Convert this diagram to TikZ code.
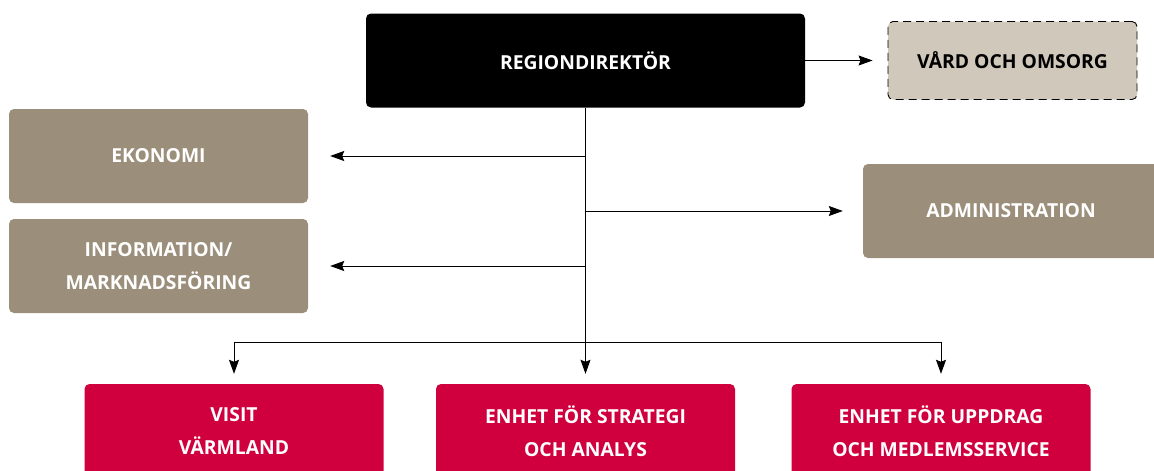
\documentclass[tikz,border=0pt]{standalone}
\usepackage{fontspec}
\setmainfont{Open Sans}
\usetikzlibrary{arrows.meta}

\definecolor{taupe}{RGB}{155,142,122}
\definecolor{beige}{RGB}{208,200,186}
\definecolor{crimson}{RGB}{208,0,62}

\tikzset{
  unit/.style={rounded corners=5pt, text=white, font=\bfseries\fontsize{19.3}{33}\selectfont,
    align=center, inner sep=0pt},
  staff/.style={unit, fill=taupe, minimum width=299pt, minimum height=94pt},
  dept/.style={unit, fill=crimson, minimum width=299pt, minimum height=94pt},
  line/.style={line width=0.9pt},
  arr/.style={line, -{Stealth[length=14pt,width=10pt,inset=2pt]}},
}

\begin{document}
\begin{tikzpicture}[x=1pt, y=-1pt]
\useasboundingbox (0,0) rectangle (1154,471);

\node[unit, fill=black, minimum width=439pt, minimum height=94pt] (chef) at (585.5,60.5) {REGIONDIREKTÖR};
\node[unit, fill=beige, text=black, draw=black, dash pattern=on 8pt off 5pt, line width=0.9pt,
      minimum width=249pt, minimum height=78pt] (vard) at (1012.5,60.5) {VÅRD OCH OMSORG};

\node[staff] (eko)  at (158.5,156) {EKONOMI};
\node[staff] (info) at (158.5,266) {INFORMATION/\\MARKNADSFÖRING};
\node[staff, minimum width=296pt] (admin) at (1011,211) {ADMINISTRATION};

\node[dept] (visit)    at (234,431)   {VISIT\\VÄRMLAND};
\node[dept] (strategi) at (585.5,431) {ENHET FÖR STRATEGI\\OCH ANALYS};
\node[dept] (uppdrag)  at (941,431)   {ENHET FÖR UPPDRAG\\OCH MEDLEMSSERVICE};

% -------- connectors -----------
\coordinate (bus) at (0,342);
\draw[arr, shorten >=15pt] (chef.east) -- (vard);
\draw[line] (chef.south) -- (chef.south |- bus);
\draw[arr, shorten >=22pt] (chef.south |- eko.east) -- (eko);
\draw[arr, shorten >=22pt] (chef.south |- info.east) -- (info);
\draw[arr, shorten >=20pt] (chef.south |- admin.west) -- (admin);
\draw[arr, shorten >=10pt] (chef.south |- bus) -| (visit);
\draw[arr, shorten >=10pt] (chef.south |- bus) -- (strategi);
\draw[arr, shorten >=10pt] (chef.south |- bus) -| (uppdrag);
\end{tikzpicture}
\end{document}
